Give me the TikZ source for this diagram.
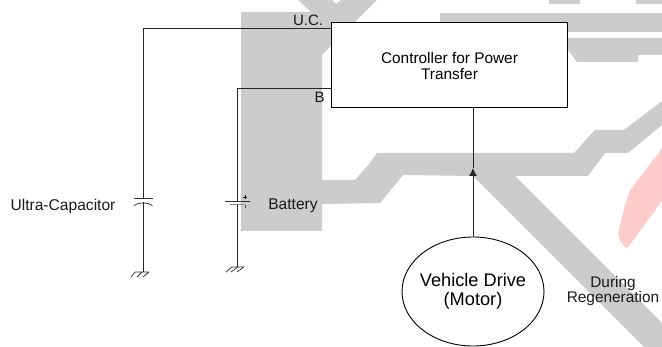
\documentclass[tikz,border=0pt]{standalone}
\usepackage{fontspec}
\setmainfont{Liberation Sans}
\usetikzlibrary{shapes.geometric,arrows.meta}
\definecolor{wm}{HTML}{CCCCCC}
\definecolor{wmpink}{HTML}{FFCCCC}
\tikzset{
  wire/.style={line width=0.95pt,black!85},
  lab/.style={inner sep=0,align=center,text=black!90},
  ctrlbox/.style={draw=black,line width=1pt,fill=white,minimum width=235.5pt,minimum height=85pt,inner sep=0,align=center,font=\fontsize{15.4}{16}\selectfont},
  motorell/.style={ellipse,draw=black,line width=0.9pt,fill=white,minimum width=142pt,minimum height=109pt,inner sep=-4pt,align=center,font=\fontsize{18.2}{19}\selectfont},
  thin wire/.style={line width=0.75pt,black!80}
}
\begin{document}
\begin{tikzpicture}[x=1pt,y=-1pt]
\useasboundingbox (0,0) rectangle (662,347);
% watermark
\fill[wm] (241,12) -- (311,12) -- (298,0) -- (332,0) -- (336,4) -- (341,0) -- (377,0) -- (322,55) -- (322,180) -- (355,180) -- (370,163) -- (377,153) -- (574,153) -- (595,130) -- (624,130) -- (662,101) -- (662,125) -- (628,153) -- (605,153) -- (588,176) -- (515,176) -- (662,323) -- (662,347) -- (644,347) -- (473,176) -- (403,175) -- (380,203) -- (322,204) -- (322,231) -- (241,231) -- cycle;
\fill[wm] (440,13) -- (662,13) -- (662,32) -- (440,32) -- cycle;
\fill[wm] (560,38) -- (662,38) -- (662,55) -- (638,55) -- (638,62) -- (577,62) -- (568,50) -- (560,50) -- cycle;
\fill[wm] (549,0) rectangle (580,4);
\fill[wm] (636,0) rectangle (662,4);
\fill[wmpink,rounded corners=3pt] (664,146) -- (630,190) -- (625,205) -- (618,233) -- (620,241) -- (627,249) -- (664,198) -- cycle;
% main nodes
\node[ctrlbox] (ctrl) at (449.5,65.5) {Controller for Power\\Transfer};
\node[motorell] (motor) at (473,291.5) {Vehicle Drive\\(Motor)};
% labels
\node[lab,font=\fontsize{15.6}{17}\selectfont] (ucap) at (63,206) {Ultra-Capacitor};
\node[lab,font=\fontsize{15.6}{16}\selectfont] (batt) at (293,206) {Battery};
\node[lab,font=\fontsize{15}{16}\selectfont] (uc) at (308,20) {U.C.};
\node[lab,font=\fontsize{15}{16}\selectfont] (bl) at (319.5,97) {B};
\node[lab,font=\fontsize{15.4}{15}\selectfont] (regen) at (613,291.5) {During\\Regeneration};
% coordinates
\coordinate (ucin) at (ctrl.west |- 0,28);
\coordinate (ucplateA) at (143,198);
\coordinate (ucplateB) at (143,202);
\coordinate (ucgnd) at (143,272);
\coordinate (bin) at (ctrl.west |- 0,88);
\coordinate (bplateA) at (237,201);
\coordinate (bplateB) at (237,204);
\coordinate (bgnd) at (237,267);
\coordinate (tip) at (473,168);
% ultra-capacitor branch
\draw[wire] (ucin) -| (ucplateA);
\draw[wire] (ucplateB) -- (ucgnd);
\draw[thin wire] (134,198) -- (152.5,198);
\draw[thin wire] (134,206) .. controls (137,202) and (149,202) .. (152.5,206);
\draw[thin wire] (135,272) -- (149,272) (135,272) -- (131,277) (142,272) -- (137,277) (149,272) -- (143,277);
% battery branch
\draw[wire] (bin) -| (bplateA);
\draw[wire] (bplateB) -- (bgnd);
\draw[thin wire] (225,201) -- (250,201);
\draw[line width=0.9pt,black!50] (230,204) -- (244,204);
\draw[line width=0.6pt] (243,197.5) -- (247,197.5) (245,195.5) -- (245,199.5);
\draw[line width=0.6pt,black!70] (245,205.5) -- (245,208.5);
\draw[thin wire] (232,267) -- (244,267) (232,267) -- (226,272) (238,267) -- (231,272) (244,267) -- (237,272);
% motor to controller
\draw[wire] (tip) -- (ctrl.south -| tip);
\draw[wire,-{Latex[length=8pt,width=8pt]}] (motor.north) -- (tip);
\end{tikzpicture}
\end{document}
